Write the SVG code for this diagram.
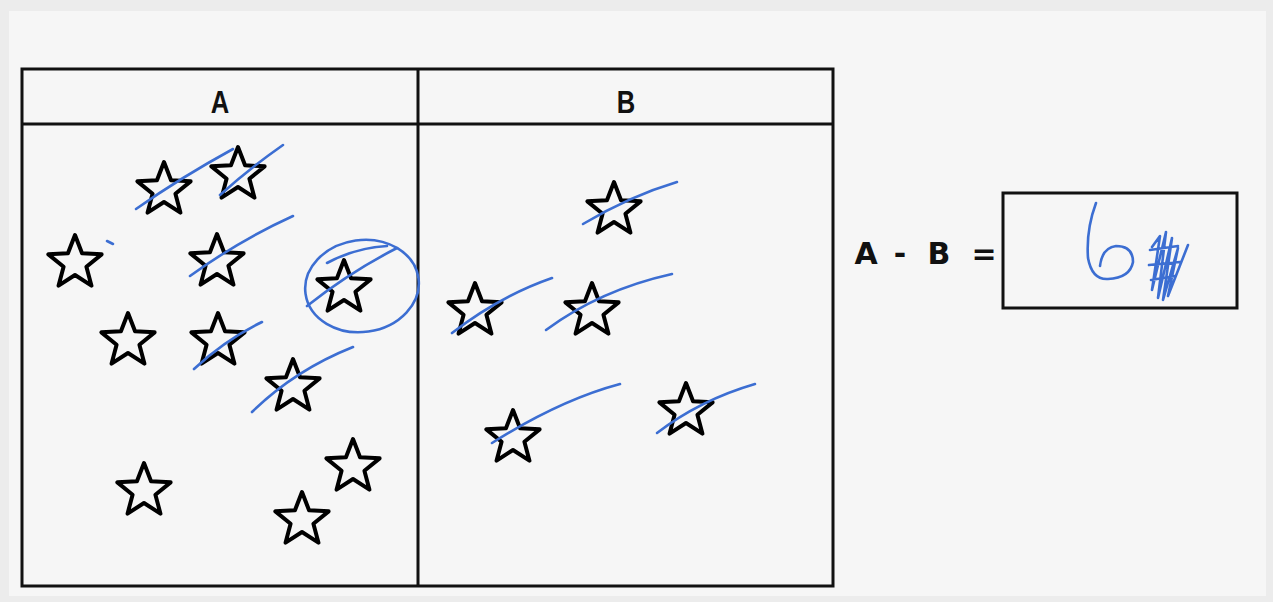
<svg xmlns="http://www.w3.org/2000/svg" width="1273" height="602" viewBox="0 0 1273 602">
<style>
.frame{fill:none;stroke:#111;stroke-width:3}
.star{fill:none;stroke:#000;stroke-width:4;stroke-linejoin:round}
.pen{fill:none;stroke:#3c6ed2;stroke-width:2.6;stroke-linecap:round;stroke-linejoin:round}
.hdr{font-family:"Liberation Sans",Arial,sans-serif;font-weight:bold;font-size:32px;fill:#111;text-anchor:middle}
.eq{font-family:"DejaVu Sans","Liberation Sans",sans-serif;font-weight:bold;font-size:30px;fill:#111;text-anchor:middle}
</style>
<defs>
<polygon id="st" points="0,-28 7.05,-9.71 26.63,-8.65 11.41,3.71 16.46,22.65 0,12 -16.46,22.65 -11.41,3.71 -26.63,-8.65 -7.05,-9.71"/>
</defs>
<rect x="0" y="0" width="1273" height="602" fill="#ececec"/>
<rect x="9" y="11" width="1257" height="585" fill="#f6f6f6"/>

<g id="table">
<rect class="frame" x="22" y="69" width="811" height="517"/>
<line class="frame" x1="22" y1="124" x2="833" y2="124" stroke-width="3.5"/>
<line class="frame" x1="418" y1="69" x2="418" y2="586"/>
<text class="hdr" x="220" y="113" transform="translate(220 0) scale(0.8 1) translate(-220 0)">A</text>
<text class="hdr" x="626" y="113" transform="translate(626 0) scale(0.8 1) translate(-626 0)">B</text>
</g>

<g id="stars-a">
<use href="#st" class="star" x="164" y="190"/>
<use href="#st" class="star" x="238" y="175"/>
<use href="#st" class="star" x="75" y="263"/>
<use href="#st" class="star" x="217" y="262"/>
<use href="#st" class="star" x="344" y="288"/>
<use href="#st" class="star" x="128" y="341"/>
<use href="#st" class="star" x="218" y="341"/>
<use href="#st" class="star" x="293" y="387"/>
<use href="#st" class="star" x="144" y="491"/>
<use href="#st" class="star" x="353" y="467"/>
<use href="#st" class="star" x="302" y="520"/>
</g>

<g id="stars-b">
<use href="#st" class="star" x="614" y="210"/>
<use href="#st" class="star" x="475" y="311"/>
<use href="#st" class="star" x="592" y="311"/>
<use href="#st" class="star" x="513" y="438"/>
<use href="#st" class="star" x="686" y="411"/>
</g>

<g id="marks">
<path class="pen" d="M136,209 Q180,178 233,149"/>
<path class="pen" d="M220,195 Q250,168 283,145"/>
<path class="pen" d="M190,276 Q240,240 293,216"/>
<path class="pen" d="M307,306 Q350,272 397,248"/>
<path class="pen" d="M327,263 Q355,248 387,246"/>
<ellipse class="pen" cx="362" cy="286" rx="57" ry="46" transform="rotate(-8 362 286)"/>
<path class="pen" d="M194,369 Q225,340 262,322"/>
<path class="pen" d="M252,412 Q295,370 353,347"/>
<path class="pen" d="M107,241 L113,244"/>
<path class="pen" d="M583,224 Q630,196 677,182"/>
<path class="pen" d="M452,333 Q500,296 552,278"/>
<path class="pen" d="M546,330 Q600,290 672,274"/>
<path class="pen" d="M492,443 Q560,400 620,384"/>
<path class="pen" d="M657,433 Q700,400 755,384"/>
</g>

<g id="answer">
<text class="eq" x="866" y="264">A</text>
<text class="eq" x="900" y="264">-</text>
<text class="eq" x="939" y="264">B</text>
<text class="eq" x="984" y="264">=</text>
<rect class="frame" x="1003" y="193" width="234" height="115"/>
<path class="pen" d="M1096,203 Q1086,230 1088,258 Q1092,280 1108,279 Q1130,278 1133,262 Q1133,246 1116,246 Q1102,248 1100,266"/>
<path class="pen" stroke-width="2.2" d="M1152,247 L1160,236 L1152,290 L1166,232 L1158,298 L1172,238 L1163,300 L1178,248 L1168,296 L1188,245 M1150,250 L1178,246 M1149,265 L1180,262 M1151,280 L1175,276"/>
</g>
</svg>
